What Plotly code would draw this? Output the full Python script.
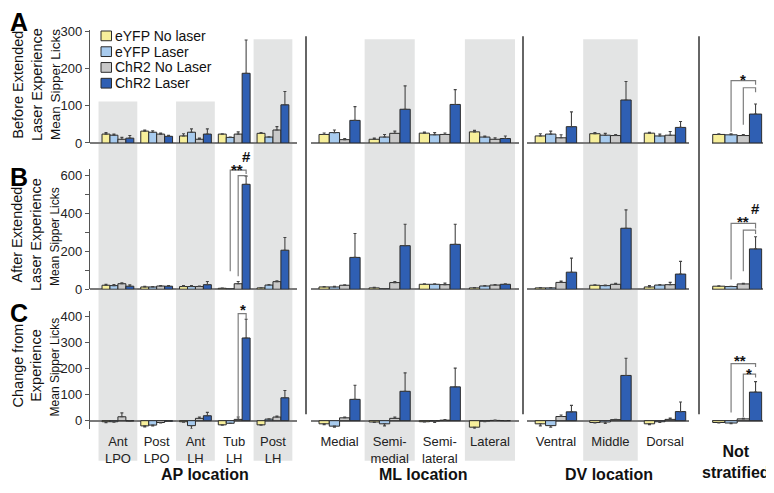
import numpy as np
import plotly.graph_objects as go
from plotly.subplots import make_subplots

W, H = 774, 493
OFF = 8  # page body margin of the browser
FONT = "Liberation Sans, Arial, sans-serif"

groups = ["eYFP No laser", "eYFP Laser", "ChR2 No Laser", "ChR2 Laser"]
colors = ["#f7ef9b", "#a8cbee", "#c9c9c9", "#2f5fb3"]

ap_labels = ["Ant<br>LPO", "Post<br>LPO", "Ant<br>LH", "Tub<br>LH", "Post<br>LH"]
ml_labels = ["Medial", "Semi-<br>medial", "Semi-<br>lateral", "Lateral"]
dv_labels = ["Ventral", "Middle", "Dorsal"]
ns_labels = ["Not stratified"]

# A: before extended laser experience (rows = groups)
before_ap = [[24, 32, 19, 24, 26], [21, 29, 29, 15, 16], [10, 24, 10, 24, 35], [13, 18, 24, 188, 103]]
before_ap_err = [[4, 3, 6, 1, 2], [3, 4, 9, 1, 1], [5, 3, 3, 6, 9], [7, 3, 14, 90, 36]]
before_ml = [[23, 10, 26.5, 30], [28, 16, 22, 16], [9, 26, 23, 10], [61, 91, 104, 12]]
before_ml_err = [[4, 3, 3, 4], [7, 7, 6, 3], [3, 6, 4, 4], [37, 63, 40, 7]]
before_dv = [[19, 25, 26.5], [24, 21, 19], [14, 20, 21], [44, 116, 42]]
before_dv_err = [[6, 3, 2], [8, 5, 5], [8, 3, 10], [40, 50, 16]]
before_ns = [[23], [22], [20], [78]]
before_ns_err = [[2], [3], [3], [27]]

# B: after extended laser experience
after_ap = [[21, 12, 14, 5, 7], [19, 12, 14, 2, 22], [29, 17, 14, 29, 40], [16, 16, 24, 554, 206]]
after_ap_err = [[5, 3, 5, 1, 1], [5, 2, 5, 1, 2], [5, 3, 3, 12, 5], [7, 3, 17, 43, 67]]
after_ml = [[12, 7, 26, 7], [12, 2, 26, 17], [21, 35, 24, 22], [168, 230, 237, 26]]
after_ml_err = [[2, 3, 3, 2], [3, 1, 3, 3], [2, 5, 8, 2], [126, 113, 106, 3]]
after_dv = [[7, 21, 12], [7, 19, 22], [36, 26, 24], [90, 322, 80]]
after_dv_err = [[2, 2, 7], [2, 3, 2], [7, 5, 12], [74, 97, 67]]
after_ns = [[16], [14], [28], [213]]
after_ns_err = [[2], [2], [3], [64]]

# C: change from experience
change_ap = [[-4, -20, -4, -16, -16], [-4, -17, -19, -10, 6], [15, -7, 9, 5, 14], [-1, -2, 19, 318, 88]]
change_ap_err = [[3.5, 4, 2, 1, 1], [2, 3, 13, 1, 1], [15, 2, 5, 9, 4], [1, 1, 13, 72, 28]]
change_ml = [[-12, -5, -4, -25], [-21, -12, -1, -1], [11, 9, 2, 1], [82, 113, 130, 0]]
change_ml_err = [[3, 2, 1, 6], [4, 8, 6, 3], [3, 5, 2, 1], [54, 71, 72, 0]]
change_dv = [[-12, -7, -12], [-19, -5, -4], [16, 4, 5], [34, 174, 35]]
change_dv_err = [[8, 2, 3], [6, 6, 3], [6, 1, 5], [25, 66, 37]]
change_ns = [[-7], [-9], [7], [110]]
change_ns_err = [[2], [3], [2], [40]]

# significance brackets: row, col, category, left group, right group, left foot, top, right foot
brackets = [
    (0, 3, 0, 1, 3, 30, 168, 157),
    (0, 3, 0, 2, 3, 49, 149, 137),
    (1, 0, 3, 1, 3, 95, 629, 609),
    (1, 0, 3, 2, 3, 69, 600, 591),
    (1, 3, 0, 1, 3, 51, 348, 321),
    (1, 3, 0, 2, 3, 95, 312, 292),
    (2, 0, 3, 2, 3, 10, 412, 390),
    (2, 3, 0, 1, 3, 31, 219, 206),
    (2, 3, 0, 2, 3, 13, 179, 166),
]
sig_marks = [
    (0, 3, 0.108, 170, "*"),
    (1, 0, 3.063, 631, "**"),
    (1, 0, 3.32, 703, "#"),
    (1, 3, 0.108, 358, "**"),
    (1, 3, 0.363, 424, "#"),
    (2, 0, 3.234, 426, "*"),
    (2, 3, 0.055, 230, "**"),
    (2, 3, 0.225, 182, "*"),
]


def px(v):
    return (v - OFF) / W


def py(v):
    return 1 - (v - OFF) / H


sections = [
    dict(labels=ap_labels, dom=(90, 297), rng=(-0.72, 4.62), bw=0.205, shaded=[0, 2, 4]),
    dict(labels=ml_labels, dom=(311, 519), rng=(-0.57, 3.58), bw=0.205, shaded=[1, 3]),
    dict(labels=dv_labels, dom=(527, 689), rng=(-0.53, 2.44), bw=0.19, shaded=[1]),
    dict(labels=ns_labels, dom=(711.7, 762.7), rng=(-0.5, 0.5), bw=0.24, shaded=[]),
]
rows = [
    dict(dom=(25, 141.5), rng=(0, 306), dtick=100, minor=None,
         data=[(before_ap, before_ap_err), (before_ml, before_ml_err), (before_dv, before_dv_err), (before_ns, before_ns_err)]),
    dict(dom=(168, 291.7), rng=(0, 636), dtick=200, minor=100,
         data=[(after_ap, after_ap_err), (after_ml, after_ml_err), (after_dv, after_dv_err), (after_ns, after_ns_err)]),
    dict(dom=(314, 435), rng=(-31, 422), dtick=100, minor=None,
         data=[(change_ap, change_ap_err), (change_ml, change_ml_err), (change_dv, change_dv_err), (change_ns, change_ns_err)]),
]

fig = make_subplots(rows=3, cols=4)

for r, row in enumerate(rows):
    for c, sec in enumerate(sections):
        vals, errs = row["data"][c]
        x = np.arange(len(sec["labels"]))
        bw = sec["bw"]
        for g in range(4):
            v = np.array(vals[g], dtype=float)
            e = np.array(errs[g], dtype=float)
            fig.add_trace(go.Bar(
                x=x, y=v, name=groups[g], width=bw, offset=(g - 2) * bw,
                marker=dict(color=colors[g], line=dict(color="#2b2b2b", width=1)),
                error_y=dict(type="data", symmetric=False,
                             array=np.where(v >= 0, e, 0), arrayminus=np.where(v < 0, e, 0),
                             color="#444", thickness=1.1, width=1.5),
                showlegend=False, hoverinfo="skip",
            ), row=r + 1, col=c + 1)

        fig.update_xaxes(domain=[px(sec["dom"][0]), px(sec["dom"][1])], range=list(sec["rng"]),
                         showgrid=False, zeroline=False, showline=False, ticks="",
                         tickvals=list(x), ticktext=sec["labels"], tickangle=0,
                         showticklabels=(r == 2 and c < 3), ticklabelstandoff=3,
                         tickfont=dict(size=13, color="#222", family=FONT),
                         row=r + 1, col=c + 1)
        yopts = dict(domain=[py(row["dom"][1]), py(row["dom"][0])], range=list(row["rng"]),
                     showgrid=False, zeroline=True, zerolinecolor="#7a7a7a", zerolinewidth=1.5)
        if c == 0:
            yopts.update(showline=True, linecolor="#555", linewidth=1.3, ticks="outside",
                         ticklen=4, tickwidth=1.1, tickcolor="#555", dtick=row["dtick"], tick0=0,
                         tickfont=dict(size=13, color="#222", family=FONT))
            if row["minor"]:
                yopts["minor"] = dict(ticks="outside", ticklen=4, tickwidth=1.1, tickcolor="#555",
                                      dtick=row["minor"], tick0=0)
        else:
            yopts.update(showline=False, ticks="", showticklabels=False)
        fig.update_yaxes(row=r + 1, col=c + 1, **yopts)

# significance brackets and marks
for r, c, cat, g1, g2, y1, ytop, y2 in brackets:
    bw = sections[c]["bw"]
    xa = cat + (g1 - 1.5) * bw
    xb = cat + (g2 - 1.5) * bw
    fig.add_trace(go.Scatter(x=[xa, xa, xb, xb], y=[y1, ytop, ytop, y2], mode="lines",
                             line=dict(color="#7d7d7d", width=1.2), showlegend=False,
                             hoverinfo="skip"), row=r + 1, col=c + 1)
for r, c, xm, ym, txt in sig_marks:
    n = r * 4 + c + 1
    r0, r1 = rows[r]["rng"]
    # y given in data units, placed through the axis domain so it is never hidden above the range
    fig.add_annotation(x=xm, y=(ym - r0) / (r1 - r0),
                       xref=f"x{n}" if n > 1 else "x", yref=(f"y{n}" if n > 1 else "y") + " domain",
                       text=f"<b>{txt}</b>", showarrow=False, xanchor="center", yanchor="middle",
                       font=dict(size=15, color="#111", family=FONT))

# shaded location bands
for c, sec in enumerate(sections):
    for i in sec["shaded"]:
        top = 99 if (c == 0 and i in (0, 2)) else 35
        fig.add_shape(type="rect", xref="x" if c == 0 else f"x{c + 1}", yref="paper",
                      x0=i - 0.5, x1=i + 0.5, y0=py(468), y1=py(top),
                      fillcolor="#e3e4e4", line_width=0, layer="below")

# section separators
for xs in [306, 523, 699]:
    fig.add_shape(type="line", xref="paper", yref="paper", x0=px(xs), x1=px(xs),
                  y0=py(420), y1=py(32), line=dict(color="#666", width=2))

# legend
for g, yc in enumerate([31.5, 47.7, 63.9, 80.1]):
    fig.add_shape(type="rect", xref="paper", yref="paper", x0=px(101), x1=px(111.5),
                  y0=py(yc + 5), y1=py(yc - 5), fillcolor=colors[g],
                  line=dict(color="#2b2b2b", width=1))
    fig.add_annotation(x=px(112.5), y=py(yc), xref="paper", yref="paper", text=groups[g],
                       showarrow=False, xanchor="left", yanchor="middle",
                       font=dict(size=14, color="#111", family=FONT))

# row titles
row_titles = ["Before Extended<br>Laser Experience", "After Extended<br>Laser Experience",
              "Change from<br>Experience"]
letters = ["A", "B", "C"]
title_y = [82, 236, 370]
letter_y = [17, 176, 316]
ylab_y = [82, 238, 372]
ylab_size = [13.5, 12, 12]
for i in range(3):
    fig.add_annotation(x=px(27), y=py(title_y[i]), xref="paper", yref="paper", text=row_titles[i],
                       showarrow=False, textangle=-90, xanchor="center", yanchor="middle",
                       font=dict(size=14.5, color="#111", family=FONT))
    fig.add_annotation(x=px(55), y=py(ylab_y[i]), xref="paper", yref="paper", text="Mean Sipper Licks",
                       showarrow=False, textangle=-90, xanchor="center", yanchor="middle",
                       font=dict(size=ylab_size[i], color="#111", family=FONT))
    fig.add_annotation(x=0, y=py(letter_y[i]), xref="paper", yref="paper", text=f"<b>{letters[i]}</b>",
                       showarrow=False, xanchor="left", yanchor="middle",
                       font=dict(size=25, color="#000", family=FONT))

# section titles
for txt, xc, yc in [("AP location", 205, 482), ("ML location", 423, 482),
                    ("DV location", 609, 482), ("Not<br>stratified", 736, 469)]:
    fig.add_annotation(x=px(xc), y=py(yc), xref="paper", yref="paper", text=f"<b>{txt}</b>",
                       showarrow=False, xanchor="center", yanchor="middle",
                       font=dict(size=16, color="#111", family=FONT))

fig.update_layout(
    width=W, height=H, margin=dict(l=0, r=0, t=0, b=0),
    paper_bgcolor="white", plot_bgcolor="rgba(0,0,0,0)",
    barmode="overlay", showlegend=False,
    font=dict(family=FONT, color="#111"),
)

fig.write_html("out.html")
